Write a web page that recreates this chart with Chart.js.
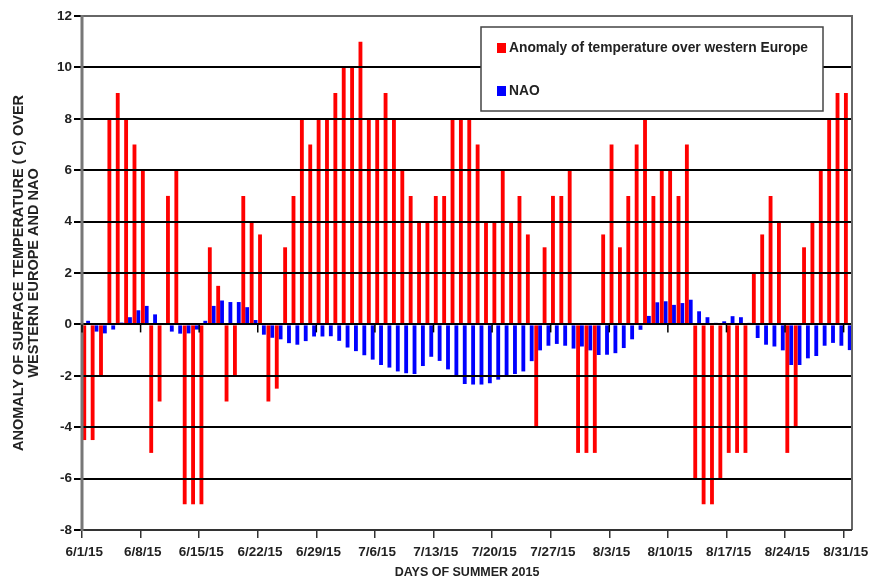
<!DOCTYPE html>
<html>
<head>
<meta charset="utf-8">
<script src="https://cdn.jsdelivr.net/npm/chart.js@4.4.0/dist/chart.umd.min.js"></script>
<style>
  html, body { margin: 0; padding: 0; background: #fff; }
  canvas { display: block; }
</style>
</head>
<body>
<canvas id="chart" width="869" height="578"></canvas>
<script>
// one category per day, 6/1/15 .. 8/31/15
var days = [];
for (var i = 0; i < 92; i++) {
  var d = new Date(2015, 5, 1 + i);
  days.push((d.getMonth() + 1) + '/' + d.getDate() + '/15');
}

var tickLabels = ['6/1/15', '6/8/15', '6/15/15', '6/22/15', '6/29/15', '7/6/15', '7/13/15',
  '7/20/15', '7/27/15', '8/3/15', '8/10/15', '8/17/15', '8/24/15', '8/31/15'];

var tempAnomaly = [
  -4.5, -4.5, -2, 8, 9, 8, 7, 6, -5, -3, 5, 6, -7, -7, -7, 3, 1.5, -3, -2, 5, 4, 3.5, -3,
  -2.5, 3, 5, 8, 7, 8, 8, 9, 10, 10, 11, 8, 8, 9, 8, 6, 5, 4, 4, 5, 5,
  8, 8, 8, 7, 4, 4, 6, 4, 5, 3.5, -4, 3, 5, 5, 6, -5, -5, -5, 3.5, 7, 3, 5,
  7, 8, 5, 6, 6, 5, 7, -6, -7, -7, -6, -5, -5, -5, 2, 3.5, 5, 4, -5, -4, 3, 4, 6, 8, 9, 9
];

var nao = [
  0.14, -0.28, -0.35, -0.2, 0.07, 0.28, 0.55, 0.72, 0.39, 0.03, -0.28, -0.36, -0.35, -0.2, 0.14,
  0.72, 0.93, 0.87, 0.87, 0.67, 0.17, -0.4, -0.52,
  -0.58, -0.73, -0.79, -0.65, -0.47, -0.47, -0.46, -0.64, -0.9, -1.04, -1.2, -1.37, -1.58,
  -1.68, -1.83, -1.9, -1.93, -1.62, -1.26, -1.42, -1.75,
  -2.01, -2.32, -2.34, -2.34, -2.29, -2.15, -2.01, -1.93, -1.83, -1.43, -1.01, -0.83, -0.76,
  -0.83, -0.94, -0.86, -1.01, -1.19, -1.18, -1.12, -0.92, -0.58,
  -0.21, 0.33, 0.86, 0.9, 0.76, 0.83, 0.96, 0.51, 0.28, 0.06, 0.12, 0.32, 0.28, 0.06,
  -0.53, -0.79, -0.86, -1.01, -1.58, -1.58, -1.32, -1.23, -0.83, -0.72, -0.83, -1.0
];

var seriesNames = ['Anomaly of temperature over western Europe', 'NAO'];
var seriesColors = ['#ff0000', '#0000ff'];

var yTitle = ['ANOMALY OF SURFACE TEMPERATURE ( C) OVER', 'WESTERN EUROPE AND NAO'];
var xTitle = 'DAYS OF SUMMER 2015';

var FONT = '"Liberation Sans", Arial, sans-serif';

// frame, small ticks on the zero line and the boxed legend
var extras = {
  id: 'extras',
  afterDraw: function(chart) {
    var c = chart.ctx, a = chart.chartArea;
    var xs = chart.scales.x, ys = chart.scales.y;
    c.save();
    // top and right edges
    c.strokeStyle = '#666';
    c.lineWidth = 2;
    c.beginPath();
    c.moveTo(a.left, a.top);
    c.lineTo(a.right, a.top);
    c.lineTo(a.right, a.bottom);
    c.stroke();
    // bottom axis
    c.strokeStyle = '#333';
    c.beginPath();
    c.moveTo(a.left, a.bottom);
    c.lineTo(a.right, a.bottom);
    c.stroke();
    // left axis
    c.strokeStyle = '#777';
    c.lineWidth = 3;
    c.beginPath();
    c.moveTo(a.left, a.top - 1);
    c.lineTo(a.left, a.bottom + 1);
    c.stroke();

    var half = (xs.getPixelForValue(1) - xs.getPixelForValue(0)) / 2;
    var y0 = ys.getPixelForValue(0);
    c.strokeStyle = '#000';
    c.lineWidth = 1.5;
    tickLabels.forEach(function(lbl) {
      var x = xs.getPixelForValue(days.indexOf(lbl)) - half;
      c.beginPath();
      c.moveTo(x, y0);
      c.lineTo(x, y0 + 8);
      c.stroke();
    });

    // legend box
    var bx = 481, by = 27, bw = 342, bh = 84;
    c.fillStyle = '#fff';
    c.fillRect(bx, by, bw, bh);
    c.strokeStyle = '#444';
    c.lineWidth = 1.5;
    c.strokeRect(bx, by, bw, bh);
    c.font = 'bold 13.8px ' + FONT;
    c.textBaseline = 'middle';
    c.textAlign = 'left';
    var rows = [48, 91];
    for (var k = 0; k < seriesNames.length; k++) {
      c.fillStyle = seriesColors[k];
      c.fillRect(bx + 16, rows[k] - 5, 9, 10);
      c.fillStyle = '#222';
      c.fillText(seriesNames[k], bx + 28, rows[k]);
    }
    c.restore();
  }
};

var ctx = document.getElementById('chart').getContext('2d');
var chart = new Chart(ctx, {
  type: 'bar',
  data: {
    labels: days,
    datasets: [
      {
        label: seriesNames[0],
        data: tempAnomaly,
        backgroundColor: seriesColors[0],
        borderWidth: 0,
        categoryPercentage: 0.92,
        barPercentage: 1.0
      },
      {
        label: seriesNames[1],
        data: nao,
        backgroundColor: seriesColors[1],
        borderWidth: 0,
        categoryPercentage: 0.92,
        barPercentage: 1.0
      }
    ]
  },
  options: {
    responsive: false,
    animation: false,
    layout: { padding: { left: 0, right: 17, top: 16, bottom: 0 } },
    plugins: {
      legend: { display: false },
      tooltip: { enabled: false }
    },
    scales: {
      x: {
        afterFit: function(scale) {
          scale.height = 48;
          scale.paddingLeft = 0;
          scale.paddingRight = 0;
        },
        grid: {
          drawOnChartArea: false,
          drawTicks: true,
          tickLength: 8,
          lineWidth: 1.5,
          color: function(c) {
            return tickLabels.indexOf(days[c.index]) >= 0 ? '#333' : 'rgba(0,0,0,0)';
          }
        },
        border: { display: false },
        ticks: {
          autoSkip: false,
          maxRotation: 0,
          minRotation: 0,
          padding: 6,
          labelOffset: -2,
          color: '#222',
          font: { family: FONT, size: 13.5, weight: 'bold' },
          callback: function(value, index) {
            return tickLabels.indexOf(days[index]) >= 0 ? days[index] : '';
          }
        },
        title: {
          display: true,
          text: xTitle,
          color: '#222',
          font: { family: FONT, size: 12.5, weight: 'bold', lineHeight: 0.8 },
          padding: { top: 0, bottom: 0 }
        }
      },
      y: {
        min: -8,
        max: 12,
        afterFit: function(scale) { scale.width = 82; },
        ticks: {
          stepSize: 2,
          padding: 2,
          color: '#222',
          font: { family: FONT, size: 13.5, weight: 'bold' }
        },
        grid: {
          z: 1,
          color: '#000',
          lineWidth: 2,
          tickLength: 8
        },
        border: { display: false },
        title: {
          display: true,
          text: yTitle,
          color: '#222',
          font: { family: FONT, size: 14.5, weight: 'bold', lineHeight: 1.05 },
          padding: { top: 11, bottom: 0 }
        }
      }
    }
  },
  plugins: [extras]
});
</script>
</body>
</html>
